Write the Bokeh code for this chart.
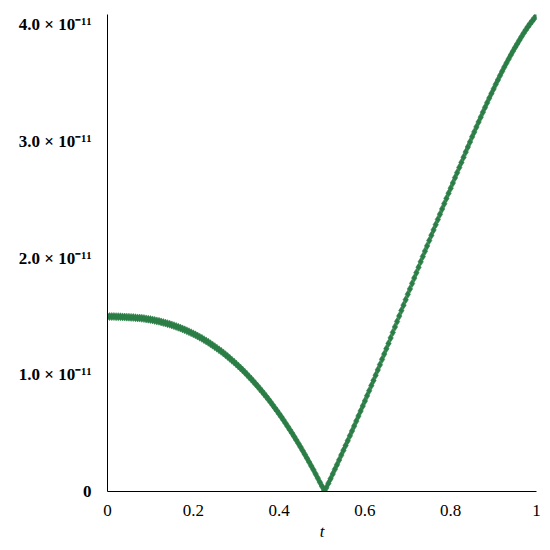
from bokeh.plotting import figure
from bokeh.models import FixedTicker, Range1d
from bokeh.embed import file_html
from bokeh.resources import INLINE

# sample points t (step 0.005, 201 points)
t = [round(i * 0.005, 3) for i in range(201)]

# error values in units of 1e-11
err_e11 = [
    # t = 0.000 .. 0.505
    1.500, 1.500, 1.500, 1.500, 1.499, 1.499, 1.498, 1.497, 1.496, 1.495,
    1.494, 1.493, 1.492, 1.490, 1.488, 1.487, 1.485, 1.483, 1.480, 1.477,
    1.474, 1.471, 1.467, 1.463, 1.459, 1.454, 1.449, 1.444, 1.439, 1.434,
    1.428, 1.422, 1.415, 1.408, 1.401, 1.394, 1.386, 1.378, 1.370, 1.361,
    1.352, 1.343, 1.333, 1.323, 1.313, 1.302, 1.291, 1.279, 1.267, 1.255,
    1.242, 1.229, 1.215, 1.202, 1.188, 1.173, 1.158, 1.142, 1.126, 1.110,
    1.093, 1.076, 1.059, 1.041, 1.023, 1.004, 0.984, 0.964, 0.944, 0.924,
    0.903, 0.881, 0.859, 0.837, 0.814, 0.791, 0.767, 0.742, 0.717, 0.692,
    0.666, 0.640, 0.614, 0.586, 0.558, 0.530, 0.501, 0.472, 0.442, 0.412,
    0.381, 0.350, 0.318, 0.285, 0.252, 0.219, 0.186, 0.151, 0.115, 0.080,
    0.045, 0.008,
    # t = 0.510 .. 1.000
    0.032, 0.071, 0.110, 0.150, 0.190, 0.230, 0.271, 0.312,
    0.353, 0.394, 0.435, 0.477, 0.519, 0.561, 0.604, 0.647, 0.690, 0.733,
    0.776, 0.820, 0.864, 0.908, 0.952, 0.997, 1.042, 1.087, 1.133, 1.178,
    1.224, 1.270, 1.317, 1.364, 1.411, 1.457, 1.504, 1.551, 1.598, 1.644,
    1.691, 1.737, 1.784, 1.830, 1.876, 1.922, 1.969, 2.015, 2.061, 2.106,
    2.152, 2.197, 2.243, 2.288, 2.333, 2.378, 2.423, 2.468, 2.513, 2.557,
    2.601, 2.645, 2.690, 2.734, 2.778, 2.822, 2.866, 2.910, 2.954, 2.997,
    3.041, 3.083, 3.126, 3.168, 3.210, 3.252, 3.293, 3.334, 3.374, 3.413,
    3.452, 3.491, 3.529, 3.566, 3.603, 3.639, 3.674, 3.708, 3.742, 3.775,
    3.807, 3.838, 3.869, 3.900, 3.930, 3.958, 3.985, 4.010, 4.035, 4.058,
    4.080,
]

x_ticks = [0, 0.2, 0.4, 0.6, 0.8, 1]
x_tick_labels = ["0", "0.2", "0.4", "0.6", "0.8", "1"]
y_ticks = [0, 1, 2, 3, 4]
y_tick_labels = ["0", "1.0 × 10⁻¹¹", "2.0 × 10⁻¹¹", "3.0 × 10⁻¹¹", "4.0 × 10⁻¹¹"]

GREEN = "#2b7d46"
FONT = "Liberation Serif"

p = figure(
    width=544, height=543,
    x_range=Range1d(0, 1), y_range=Range1d(0, 4.09),
    output_backend="svg", toolbar_location=None,
    min_border_left=107, min_border_right=8,
    min_border_top=14, min_border_bottom=52,
)
p.outline_line_color = None
p.grid.visible = False
p.background_fill_color = "white"
p.border_fill_color = "white"

p.scatter(t, err_e11, marker="diamond", size=8,
          fill_color=GREEN, line_color=GREEN, line_width=0.6)

xa = p.xaxis[0]
xa.ticker = FixedTicker(ticks=x_ticks)
xa.major_label_overrides = dict(zip(x_ticks, x_tick_labels))
xa.axis_label = "t"
xa.axis_label_text_font = FONT
xa.axis_label_text_font_style = "italic"
xa.axis_label_text_font_size = "17px"
xa.axis_label_standoff = 3
xa.major_label_text_font = FONT
xa.major_label_text_font_size = "17px"
xa.major_label_standoff = 7

ya = p.yaxis[0]
ya.ticker = FixedTicker(ticks=y_ticks)
ya.major_label_overrides = dict(zip(y_ticks, y_tick_labels))
ya.major_label_text_font = FONT
ya.major_label_text_font_style = "bold"
ya.major_label_text_font_size = "17px"
ya.major_label_standoff = 10

for ax in (xa, ya):
    ax.axis_line_color = "black"
    ax.axis_line_width = 1
    ax.major_tick_line_color = None
    ax.minor_tick_line_color = None
    ax.major_label_text_color = "black"
    ax.axis_label_text_color = "black"

open("out.html", "w").write(file_html(p, INLINE))
